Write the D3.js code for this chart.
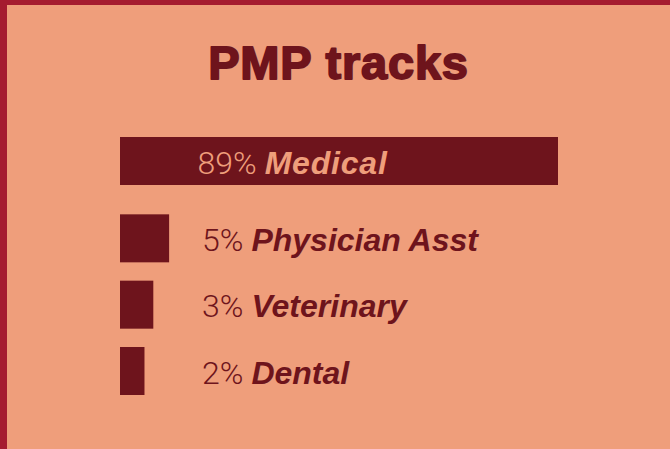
<!DOCTYPE html>
<html>
<head>
<meta charset="utf-8">
<script src="https://cdn.jsdelivr.net/npm/d3@7"></script>
<style>
  html, body { margin: 0; padding: 0; background: #EF9E7B; }
  svg { display: block; }
</style>
</head>
<body>
<div id="chart"></div>
<script>
// PMP track shares
const categories = ["Medical", "Physician Asst", "Veterinary", "Dental"];
const shares = [89, 5, 3, 2];
const title = "PMP tracks";

const W = 670, H = 449;
const bg = "#EF9E7B", frame = "#A51C30", ink = "#6E141C";

const svg = d3.select("#chart").append("svg")
  .attr("width", W).attr("height", H);

svg.append("rect").attr("width", W).attr("height", H).attr("fill", bg);
// frame on the left and top edges
svg.append("rect").attr("x", 0).attr("y", 0).attr("width", 7).attr("height", H).attr("fill", frame);
svg.append("rect").attr("x", 0).attr("y", 0).attr("width", W).attr("height", 5).attr("fill", frame);

// heavy title: bold face thickened with a matching stroke
svg.append("text")
  .attr("x", 338.5).attr("y", 79)
  .attr("text-anchor", "middle")
  .attr("font-family", "Liberation Sans, Arial, sans-serif")
  .attr("font-weight", 700)
  .attr("font-size", 47)
  .attr("letter-spacing", 0.8)
  .attr("fill", ink)
  .attr("stroke", ink)
  .attr("stroke-width", 1.8)
  .attr("stroke-linejoin", "round")
  .text(title);

const x0 = 120;
// compressed power scale keeps the small shares visible
const x = d3.scalePow().exponent(0.76).domain([0, 89]).range([0, 438]);
const y = d3.scalePoint().domain(categories).range([148, 347]);
const barH = 48;
const lead = 11; // extra space above the leading row
const rowY = (d, i) => y(d) - (i === 0 ? lead : 0);

const rows = svg.selectAll("g.row")
  .data(categories)
  .join("g")
  .attr("class", "row");

rows.append("rect")
  .attr("x", x0)
  .attr("y", (d, i) => rowY(d, i))
  .attr("width", (d, i) => x(shares[i]))
  .attr("height", barH)
  .attr("fill", ink);

const labels = rows.append("text")
  .attr("x", (d, i) => i === 0 ? 197.5 : 202)
  .attr("y", (d, i) => rowY(d, i) + 36.5)
  .attr("fill", (d, i) => i === 0 ? bg : ink)
  .attr("font-size", 32);

labels.append("tspan")
  .attr("font-family", "Roboto, sans-serif")
  .attr("font-weight", 300)
  .text((d, i) => shares[i] + "%");

labels.append("tspan")
  .attr("font-family", "Liberation Sans, Arial, sans-serif")
  .attr("font-weight", 700)
  .attr("font-style", "italic")
  .attr("dx", 8)
  .attr("letter-spacing", (d, i) => i === 0 ? 0.8 : 0)
  .text(d => d);
</script>
</body>
</html>
